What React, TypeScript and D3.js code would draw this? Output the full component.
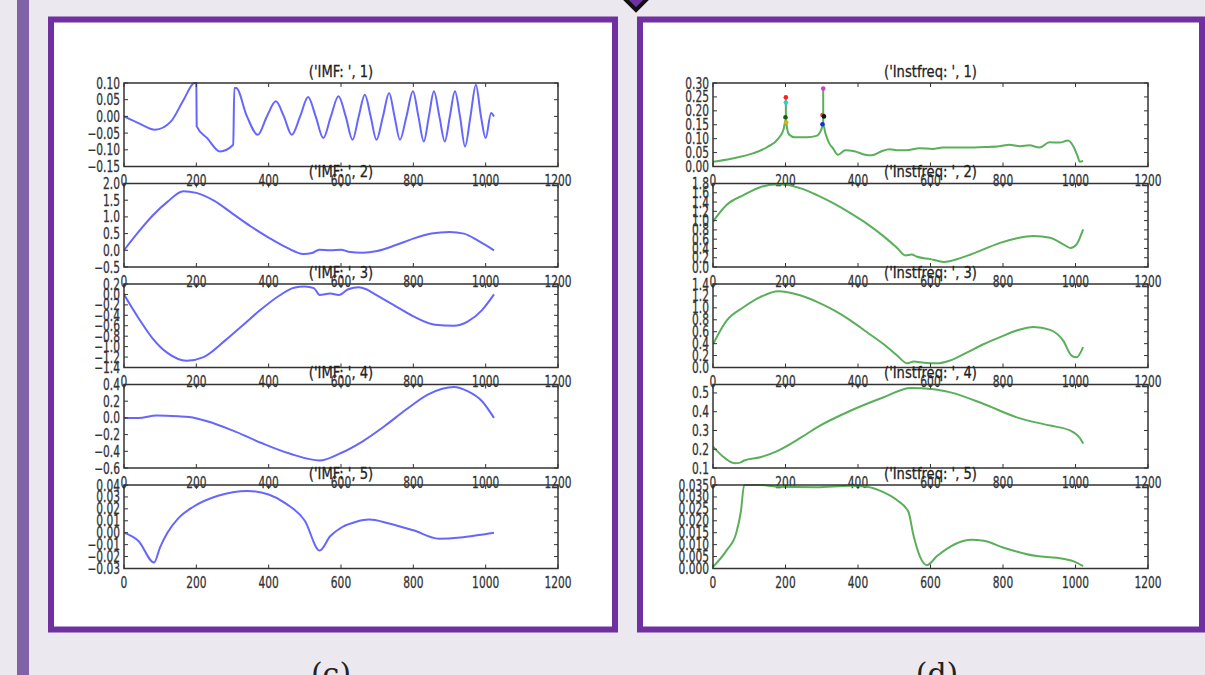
import React from 'react';
import * as d3 from 'd3';

// x axis shared by every subplot
const xTicks = [0, 200, 400, 600, 800, 1000, 1200];

// ---- IMF series (left panel) ----
const imf1: [number, number][] = [
  [0, 0.0], [40, -0.02], [86, -0.04], [130, -0.015], [165, 0.05], [195, 0.1], [200, 0.1],
  [201, -0.03], [230, -0.065], [265, -0.105], [302, -0.085], [305, 0.085], [310, 0.085],
  [340, 0.0], [370, -0.055], [395, 0.0], [420, 0.045], [442, 0.0], [464, -0.055], [487, 0.0],
  [509, 0.058], [530, 0.0], [551, -0.065], [572, 0.0], [593, 0.06], [613, 0.0], [632, -0.07],
  [649, 0.0], [666, 0.065], [682, 0.0], [698, -0.07], [716, 0.0], [733, 0.07], [748, 0.0],
  [763, -0.07], [781, 0.0], [799, 0.075], [814, 0.0], [829, -0.075], [843, 0.0], [857, 0.075],
  [872, 0.0], [887, -0.075], [901, 0.0], [915, 0.075], [929, 0.0], [943, -0.09], [958, 0.0],
  [973, 0.095], [987, 0.0], [1000, -0.065], [1015, 0.01], [1023, 0.0],
];
const imf2: [number, number][] = [
  [0, 0.0], [40, 0.55], [80, 1.05], [120, 1.45], [164, 1.77], [200, 1.72], [250, 1.48],
  [300, 1.1], [350, 0.72], [400, 0.38], [450, 0.08], [496, -0.11], [520, -0.08], [540, 0.02],
  [570, 0.0], [600, 0.02], [620, -0.04], [660, -0.07], [700, -0.02], [750, 0.15], [800, 0.35],
  [850, 0.5], [900, 0.55], [940, 0.5], [980, 0.28], [1023, 0.0],
];
const imf3: [number, number][] = [
  [0, 0.0], [40, -0.45], [80, -0.85], [120, -1.12], [173, -1.27], [220, -1.2], [280, -0.88],
  [330, -0.58], [380, -0.28], [430, -0.02], [470, 0.13], [500, 0.15], [525, 0.12], [541, -0.01],
  [570, 0.02], [594, -0.01], [620, 0.1], [649, 0.14], [670, 0.1], [697, -0.01], [745, -0.2],
  [800, -0.42], [860, -0.58], [912, -0.6], [950, -0.52], [990, -0.3], [1023, 0.0],
];
const imf4: [number, number][] = [
  [0, 0.0], [40, 0.0], [90, 0.03], [150, 0.02], [180, 0.01], [230, -0.04], [300, -0.15],
  [380, -0.3], [460, -0.43], [541, -0.51], [600, -0.42], [660, -0.28], [720, -0.1], [780, 0.1],
  [840, 0.28], [880, 0.35], [912, 0.37], [950, 0.32], [990, 0.2], [1023, 0.0],
];
const imf5: [number, number][] = [
  [0, 0.0], [40, -0.007], [83, -0.025], [100, -0.012], [120, 0.0], [150, 0.012], [193, 0.022],
  [260, 0.031], [341, 0.035], [400, 0.032], [450, 0.024], [500, 0.01], [541, -0.015],
  [570, -0.003], [605, 0.005], [640, 0.009], [678, 0.011], [730, 0.008], [800, 0.002],
  [871, -0.005], [930, -0.004], [980, -0.002], [1023, 0.0],
];

// ---- Instantaneous frequency series (right panel) ----
const inst1: [number, number][] = [
  [0, 0.017], [50, 0.028], [110, 0.047], [150, 0.07], [180, 0.1], [195, 0.135], [201, 0.17],
  [204, 0.14], [210, 0.115], [225, 0.105], [260, 0.105], [285, 0.11], [298, 0.13], [304, 0.15],
  [310, 0.12], [320, 0.085], [331, 0.065], [345, 0.042], [365, 0.058], [390, 0.055], [420, 0.042],
  [438, 0.04], [465, 0.055], [487, 0.062], [510, 0.058], [533, 0.058], [570, 0.066], [606, 0.063],
  [634, 0.068], [698, 0.068], [750, 0.07], [790, 0.073], [818, 0.078], [846, 0.073], [873, 0.076],
  [901, 0.068], [928, 0.087], [956, 0.086], [979, 0.093], [995, 0.07], [1005, 0.04],
  [1012, 0.017], [1021, 0.02],
];
const inst1Spikes: [number, number][][] = [
  [[201, 0.17], [201, 0.25]],
  [[304, 0.15], [304, 0.28]],
];
const inst1Dots = [
  { x: 201, y: 0.249, c: '#ff2020' },
  { x: 201, y: 0.23, c: '#30d0d0' },
  { x: 200, y: 0.177, c: '#106010' },
  { x: 202, y: 0.158, c: '#d8b020' },
  { x: 304, y: 0.28, c: '#d040d0' },
  { x: 302, y: 0.185, c: '#ff4020' },
  { x: 306, y: 0.18, c: '#111111' },
  { x: 302, y: 0.152, c: '#1030e0' },
];
const inst2: [number, number][] = [
  [0, 0.98], [38, 1.34], [84, 1.55], [130, 1.72], [170, 1.78], [193, 1.78], [240, 1.7],
  [287, 1.55], [333, 1.37], [379, 1.16], [425, 0.93], [471, 0.66], [508, 0.41], [531, 0.25],
  [548, 0.27], [563, 0.22], [600, 0.17], [637, 0.11], [655, 0.13], [700, 0.24], [746, 0.38],
  [792, 0.52], [838, 0.62], [884, 0.67], [930, 0.63], [966, 0.49], [986, 0.41], [1003, 0.49],
  [1021, 0.81],
];
const inst3: [number, number][] = [
  [0, 0.39], [38, 0.79], [84, 1.01], [130, 1.18], [180, 1.28], [240, 1.21], [287, 1.1],
  [333, 0.96], [379, 0.79], [425, 0.59], [471, 0.39], [508, 0.2], [536, 0.07], [554, 0.1],
  [582, 0.08], [619, 0.07], [655, 0.12], [700, 0.25], [746, 0.39], [792, 0.51], [838, 0.62],
  [884, 0.68], [930, 0.63], [966, 0.45], [989, 0.2], [1003, 0.17], [1021, 0.34],
];
const inst4: [number, number][] = [
  [0, 0.214], [25, 0.165], [60, 0.125], [77, 0.13], [86, 0.14], [130, 0.157], [177, 0.19],
  [241, 0.26], [287, 0.317], [379, 0.405], [471, 0.477], [545, 0.527], [609, 0.52], [655, 0.503],
  [747, 0.441], [838, 0.37], [930, 0.326], [985, 0.3], [1012, 0.26], [1021, 0.23],
];
const inst5: [number, number][] = [
  [0, 0.0007], [38, 0.0077], [64, 0.0148], [77, 0.024], [86, 0.035], [130, 0.035],
  [176, 0.0343], [286, 0.0341], [378, 0.0347], [424, 0.0343], [470, 0.032], [507, 0.0287],
  [539, 0.0238], [553, 0.0139], [571, 0.005], [590, 0.0014], [618, 0.0052], [655, 0.0092],
  [711, 0.012], [747, 0.0116], [802, 0.0087], [894, 0.0052], [949, 0.0045], [995, 0.003],
  [1021, 0.001],
];

const imfTitles = [1, 2, 3, 4, 5].map(i => `('IMF: ', ${i})`);
const instTitles = [1, 2, 3, 4, 5].map(i => `('Instfreq: ', ${i})`);

const imfDomains: [number, number][] = [[-0.15, 0.1], [-0.5, 2.0], [-1.4, 0.2], [-0.6, 0.4], [-0.03, 0.04]];
const imfTicks = [
  [-0.15, -0.1, -0.05, 0, 0.05, 0.1],
  [-0.5, 0, 0.5, 1.0, 1.5, 2.0],
  [-1.4, -1.2, -1.0, -0.8, -0.6, -0.4, -0.2, 0, 0.2],
  [-0.6, -0.4, -0.2, 0, 0.2, 0.4],
  [-0.03, -0.02, -0.01, 0, 0.01, 0.02, 0.03, 0.04],
];
const imfFormats = ['.2f', '.1f', '.1f', '.1f', '.2f'];

const instDomains: [number, number][] = [[0, 0.3], [0, 1.8], [0, 1.4], [0.1, 0.545], [0, 0.035]];
const instTicks = [
  [0, 0.05, 0.1, 0.15, 0.2, 0.25, 0.3],
  [0, 0.2, 0.4, 0.6, 0.8, 1.0, 1.2, 1.4, 1.6, 1.8],
  [0, 0.2, 0.4, 0.6, 0.8, 1.0, 1.2, 1.4],
  [0.1, 0.2, 0.3, 0.4, 0.5],
  [0, 0.005, 0.01, 0.015, 0.02, 0.025, 0.03, 0.035],
];
const instFormats = ['.2f', '.1f', '.1f', '.1f', '.3f'];

const tops = [83, 183.5, 284, 384.5, 485];
const plotH = 83.5;
const FONT = 'DejaVu Sans';
const TICK_SX = 0.71;
const TITLE_SX = 0.82;

type Sub = {
  title: string;
  data: [number, number][];
  domain: [number, number];
  ticks: number[];
  fmt: string;
};

function Subplot({ id, sub, top, x0, x1, color, extra }: {
  id: string; sub: Sub; top: number; x0: number; x1: number; color: string;
  extra?: (x: d3.ScaleLinear<number, number>, y: d3.ScaleLinear<number, number>) => React.ReactNode;
}) {
  const x = d3.scaleLinear().domain([0, 1200]).range([x0, x1]);
  const y = d3.scaleLinear().domain(sub.domain).range([top + plotH, top]);
  const line = d3.line<[number, number]>().x(d => x(d[0])).y(d => y(d[1])).curve(d3.curveMonotoneX);
  const f = d3.format(sub.fmt);
  const bottom = top + plotH;
  return (
    <g>
      <defs>
        <clipPath id={id}>
          <rect x={x0} y={top - 1} width={x1 - x0} height={plotH + 2} />
        </clipPath>
      </defs>
      <path d={line(sub.data) || ''} fill="none" stroke={color} strokeWidth={2} clipPath={`url(#${id})`} />
      {extra && extra(x, y)}
      <rect x={x0} y={top} width={x1 - x0} height={plotH} fill="none" stroke="#333" strokeWidth={1.5} />
      {xTicks.map(t => (
        <g key={'xt' + t}>
          <line x1={x(t)} x2={x(t)} y1={bottom} y2={bottom - 4} stroke="#333" />
          <line x1={x(t)} x2={x(t)} y1={top} y2={top + 4} stroke="#333" />
          <text transform={`translate(${x(t)},${bottom + 19.5}) scale(${TICK_SX},1)`} textAnchor="middle"
            fontFamily={FONT} fontSize={15} fill="#333" stroke="#333" strokeWidth={0.3}>{t}</text>
        </g>
      ))}
      {sub.ticks.map(t => (
        <g key={'yt' + t}>
          <line x1={x0} x2={x0 + 4} y1={y(t)} y2={y(t)} stroke="#333" />
          <line x1={x1} x2={x1 - 4} y1={y(t)} y2={y(t)} stroke="#333" />
          <text transform={`translate(${x0 - 4},${y(t) + 5.5}) scale(${TICK_SX},1)`} textAnchor="end"
            fontFamily={FONT} fontSize={15} fill="#333" stroke="#333" strokeWidth={0.3}>{f(t)}</text>
        </g>
      ))}
      <text transform={`translate(${(x0 + x1) / 2},${top - 6.5}) scale(${TITLE_SX},1)`} textAnchor="middle"
        fontFamily={FONT} fontSize={16} fill="#222" stroke="#222" strokeWidth={0.3}>{sub.title}</text>
    </g>
  );
}

const App = () => {
  const imfSubs: Sub[] = [imf1, imf2, imf3, imf4, imf5].map((d, i) => ({
    title: imfTitles[i], data: d, domain: imfDomains[i], ticks: imfTicks[i], fmt: imfFormats[i],
  }));
  const instSubs: Sub[] = [inst1, inst2, inst3, inst4, inst5].map((d, i) => ({
    title: instTitles[i], data: d, domain: instDomains[i], ticks: instTicks[i], fmt: instFormats[i],
  }));

  const spikeExtra = (x: d3.ScaleLinear<number, number>, y: d3.ScaleLinear<number, number>) => {
    const l = d3.line<[number, number]>().x(d => x(d[0])).y(d => y(d[1]));
    return (
      <g>
        {inst1Spikes.map((s, i) => (
          <path key={i} d={l(s) || ''} stroke="#5aaf5a" strokeWidth={2} fill="none" />
        ))}
        {inst1Dots.map((p, i) => (
          <circle key={i} cx={x(p.x)} cy={y(p.y)} r={2.3} fill={p.c} />
        ))}
      </g>
    );
  };

  return (
    <svg width={1205} height={675} style={{ position: 'absolute', left: 0, top: 0, display: 'block' }}>
      <rect x={0} y={0} width={1205} height={675} fill="#ebe9ef" />
      <rect x={17} y={0} width={12} height={675} fill="#8163a5" />

      {/* panel (c) */}
      <rect x={51} y={19.5} width={564} height={610} fill="#fff" stroke="#7030a0" strokeWidth={6} />
      {/* panel (d) */}
      <rect x={640} y={19.5} width={562} height={610} fill="#fff" stroke="#7030a0" strokeWidth={6} />

      {/* connector diamond */}
      <polygon points="624,-2 636,10 648,-2 636,-14" fill="#7030a0" stroke="#111" strokeWidth={4} />

      {imfSubs.map((s, i) => (
        <Subplot key={'l' + i} id={'cl' + i} sub={s} top={tops[i]} x0={124} x1={558} color="#6666ff" />
      ))}
      {instSubs.map((s, i) => (
        <Subplot key={'r' + i} id={'cr' + i} sub={s} top={tops[i]} x0={713} x1={1148} color="#5aaf5a"
          extra={i === 0 ? spikeExtra : undefined} />
      ))}

      <text x={331} y={684} textAnchor="middle" fontFamily="DejaVu Serif" fontSize={30} fill="#222">(c)</text>
      <text x={937} y={684} textAnchor="middle" fontFamily="DejaVu Serif" fontSize={30} fill="#222">(d)</text>
    </svg>
  );
};

export default App;
